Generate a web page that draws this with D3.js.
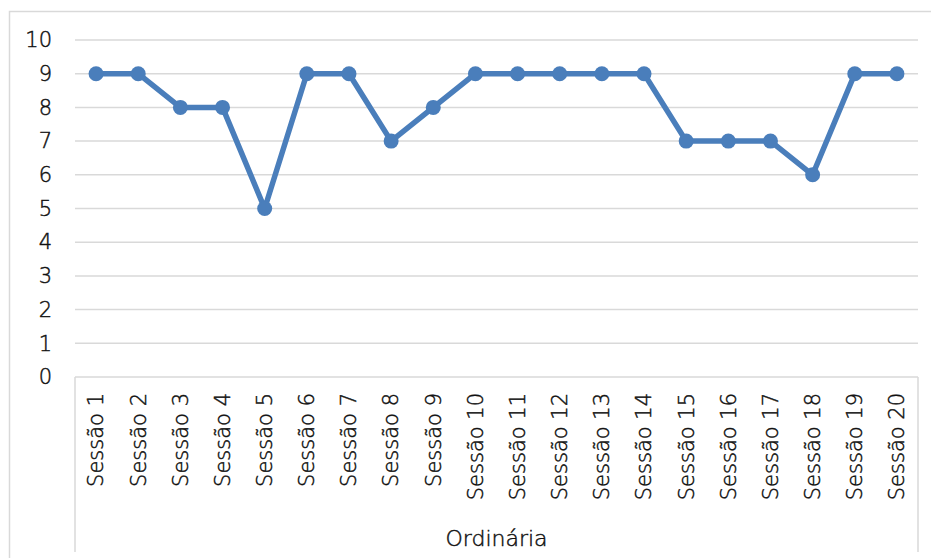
<!DOCTYPE html>
<meta charset="utf-8">
<style>
body { margin: 0; background: #fff; }
text { font-family: "DejaVu Sans", sans-serif; font-weight: 200; fill: #111; stroke: #111; stroke-width: 0.45px; }
</style>
<body>
<script src="https://d3js.org/d3.v7.min.js"></script>
<script>
var width = 931
var height = 558

// data
var sessions = d3.range(1, 21).map(function (i) { return 'Sessão ' + i })
var values = [9, 9, 8, 8, 5, 9, 9, 7, 8, 9, 9, 9, 9, 9, 7, 7, 7, 6, 9, 9]
var yTicks = [0, 1, 2, 3, 4, 5, 6, 7, 8, 9, 10]
var groupLabel = 'Ordinária'

var plot = { left: 75, right: 918, top: 40, bottom: 377 }
var fontFamily = '"DejaVu Sans", sans-serif'
var textColor = '#111'

var x = d3.scaleBand()
    .domain(sessions)
    .range([plot.left, plot.right])

var y = d3.scaleLinear()
    .domain([0, 10])
    .range([plot.bottom, plot.top])

var svg = d3.select('body')
    .append('svg')
    .attr('width', width)
    .attr('height', height)

// chart frame (runs off the picture on the right and bottom)
svg.append('rect')
    .attr('x', 9.5)
    .attr('y', 11.5)
    .attr('width', 940)
    .attr('height', 560)
    .attr('fill', 'none')
    .attr('stroke', '#d9d9d9')
    .attr('stroke-width', 1.5)

// gridlines
svg.append('g')
    .selectAll('line')
    .data(yTicks.filter(function (d) { return d > 0 }))
    .enter().append('line')
    .attr('x1', plot.left)
    .attr('x2', plot.right)
    .attr('y1', function (d) { return y(d) })
    .attr('y2', function (d) { return y(d) })
    .attr('stroke', '#d9d9d9')
    .attr('stroke-width', 1.5)

// y tick labels
var yAxis = svg.append('g')
    .attr('transform', 'translate(' + (plot.left - 14) + ',0)')
    .call(d3.axisLeft(y).tickValues(yTicks).tickSize(0).tickPadding(9))
yAxis.select('.domain').remove()
yAxis.selectAll('text')
    .style('font-size', '21px')
    .style('font-family', fontFamily)
    .attr('fill', textColor)

// category axis with group box
var xAxis = svg.append('g')
    .attr('transform', 'translate(0,' + plot.bottom + ')')
    .call(d3.axisBottom(x).tickSize(0))
xAxis.select('.domain').remove()
xAxis.selectAll('text')
    .style('font-size', '21px')
    .style('font-family', fontFamily)
    .attr('fill', textColor)
    .attr('text-anchor', 'end')
    .attr('transform', 'rotate(-90)')
    .attr('x', -16)
    .attr('y', 0)
    .attr('dy', '0.35em')

var axisColor = '#d9d9d9'
svg.append('line')
    .attr('x1', plot.left).attr('x2', plot.right)
    .attr('y1', plot.bottom).attr('y2', plot.bottom)
    .attr('stroke', axisColor).attr('stroke-width', 1.5)
svg.selectAll('.group-edge')
    .data([plot.left, plot.right])
    .enter().append('line')
    .attr('class', 'group-edge')
    .attr('x1', function (d) { return d }).attr('x2', function (d) { return d })
    .attr('y1', plot.bottom).attr('y2', 552)
    .attr('stroke', axisColor).attr('stroke-width', 1.5)

svg.append('text')
    .attr('x', (plot.left + plot.right) / 2)
    .attr('y', 546)
    .attr('text-anchor', 'middle')
    .style('font-size', '22px')
    .text(groupLabel)

// series
var line = d3.line()
    .x(function (d, i) { return x(sessions[i]) + x.bandwidth() / 2 })
    .y(function (d) { return y(d) })

svg.append('path')
    .datum(values)
    .attr('d', line)
    .attr('fill', 'none')
    .attr('stroke', '#4a7ebb')
    .attr('stroke-width', 5.5)
    .attr('stroke-linejoin', 'round')

svg.append('g')
    .selectAll('circle')
    .data(values)
    .enter().append('circle')
    .attr('cx', function (d, i) { return x(sessions[i]) + x.bandwidth() / 2 })
    .attr('cy', function (d) { return y(d) })
    .attr('r', 7.5)
    .attr('fill', '#4a7ebb')
</script>
</body>
